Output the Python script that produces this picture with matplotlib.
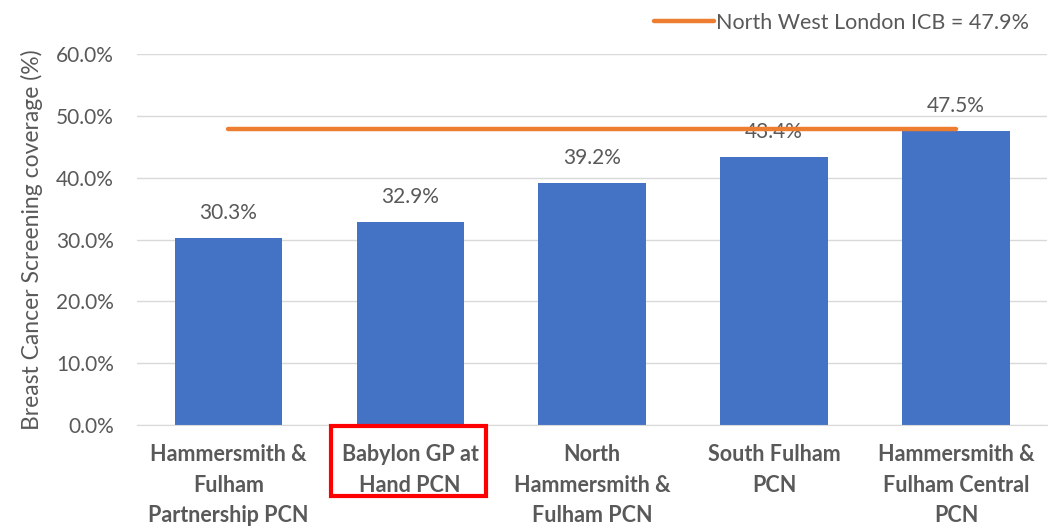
import matplotlib.pyplot as plt
from matplotlib.patches import Rectangle
from matplotlib.ticker import FuncFormatter

plt.rcParams['font.family'] = ['Lato', 'DejaVu Sans']

# Данные
categories = [
    "Hammersmith &\nFulham\nPartnership PCN",
    "Babylon GP at\nHand PCN",
    "North\nHammersmith &\nFulham PCN",
    "South Fulham\nPCN",
    "Hammersmith &\nFulham Central\nPCN",
]
coverage = [30.3, 32.9, 39.2, 43.4, 47.5]
icb_value = 47.9
icb_label = "North West London ICB = 47.9%"

grey = "#595959"
fig = plt.figure(figsize=(10.48, 5.26), dpi=100)
ax = fig.add_axes([0.131, 0.192, 0.868, 0.705])

x = list(range(len(categories)))
bars = ax.bar(x, coverage, width=0.59, color="#4472C4", zorder=2)
line, = ax.plot([x[0], x[-1]], [icb_value, icb_value], color="#ED7D31",
                linewidth=3.2, solid_capstyle="round", zorder=3)

for xi, v in zip(x, coverage):
    ax.annotate(f"{v:.1f}%", (xi, v), xytext=(0, 18), textcoords="offset points",
                ha="center", va="center", fontsize=15, color=grey, zorder=1)

ax.set_xlim(-0.5, len(categories) - 0.5)
ax.set_ylim(0, 60)
ax.set_yticks(range(0, 61, 10))
ax.yaxis.set_major_formatter(FuncFormatter(lambda v, p: f"{v:.1f}%"))
ax.set_xticks(x)
ax.set_xticklabels(categories, fontsize=15.5, fontweight="bold", color=grey,
                   linespacing=1.56)
ax.tick_params(axis="y", length=0, labelsize=15, labelcolor=grey, pad=17)
ax.tick_params(axis="x", length=0, pad=14)
ax.grid(axis="y", color="#D9D9D9", linewidth=1, zorder=0)
for s in ["top", "right", "left"]:
    ax.spines[s].set_visible(False)
ax.spines["bottom"].set_color("#D9D9D9")
ax.set_ylabel("Breast Cancer Screening coverage (%)", fontsize=16.5, color=grey)
ax.yaxis.set_label_coords(-0.104, 0.5)

ax.legend([line], [icb_label], loc="upper right", bbox_to_anchor=(0.99, 1.135),
          frameon=False, fontsize=15.5, labelcolor=grey, handlelength=2.8,
          handletextpad=0.1, borderaxespad=0)

# Красная рамка вокруг подписи
fig.patches.append(Rectangle((331 / 1048, 1 - 496 / 526), 155 / 1048, 70 / 526,
                             transform=fig.transFigure, fill=False,
                             edgecolor="#FF0000", linewidth=3))

fig.savefig("out.png", dpi=100)
